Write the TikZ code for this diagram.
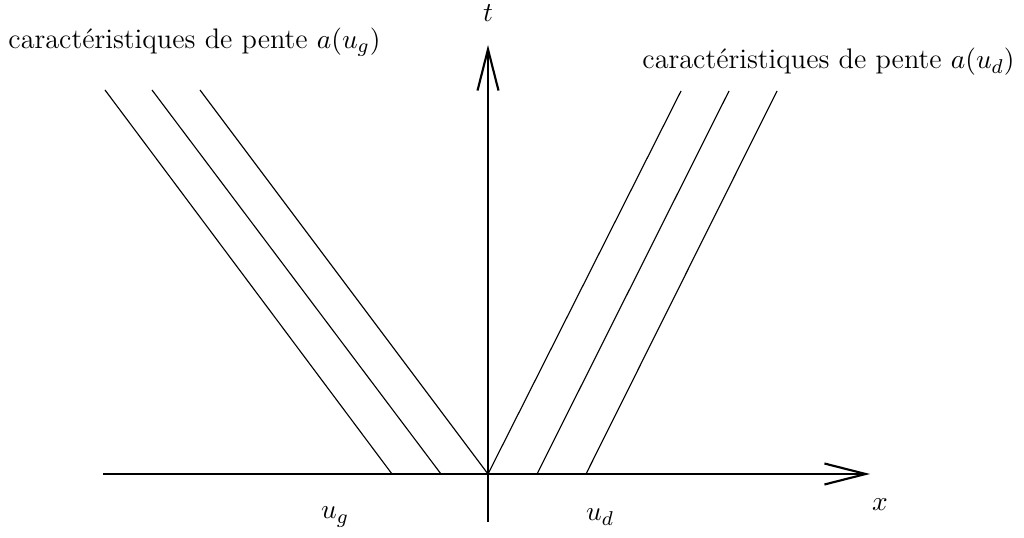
\documentclass[tikz,border=0pt]{standalone}
\usetikzlibrary{arrows.meta}
\begin{document}
\begin{tikzpicture}[x=0.4pt,y=-0.4pt,
  axis/.style={line width=0.85pt,-{Straight Barb[length=16.5pt,width=8.4pt,line width=0.85pt]}},
  charline/.style={line width=0.45pt},
  lab/.style={inner sep=0pt,font=\fontsize{11.3pt}{13.5pt}\selectfont}]
\useasboundingbox (0,0) rectangle (1024,538);
\coordinate (O) at (488,474);
\coordinate (xs) at (103,474);
\coordinate (xe) at (870,474);
\coordinate (ts) at (488,522);
\coordinate (te) at (488,45);
\draw[axis] (xs) -- (xe);
\draw[axis] (ts) -- (te);
\coordinate (l1b) at (392,474); \coordinate (l1t) at (105,90);
\coordinate (l2b) at (441,474); \coordinate (l2t) at (152,90);
\coordinate (l3t) at (200,90);
\coordinate (r1t) at (681,91);
\coordinate (r2b) at (537,474); \coordinate (r2t) at (729,91);
\coordinate (r3b) at (586,474); \coordinate (r3t) at (777,91);
\draw[charline] (l1b) -- (l1t);
\draw[charline] (l2b) -- (l2t);
\draw[charline] (O) -- (l3t);
\draw[charline] (O) -- (r1t);
\draw[charline] (r2b) -- (r2t);
\draw[charline] (r3b) -- (r3t);
\node[lab] (tl) at (488,13) {$t$};
\node[lab] (xl) at (880,505) {$x$};
\node[lab] (ug) at (335,517) {$u_g$};
\node[lab] (ud) at (600,517) {$u_d$};
\node[lab,anchor=west] (cg) at (8,42) {caractéristiques de pente $a(u_g)$};
\node[lab,anchor=east] (cd) at (1015,62) {caractéristiques de pente $a(u_d)$};
\end{tikzpicture}
\end{document}
